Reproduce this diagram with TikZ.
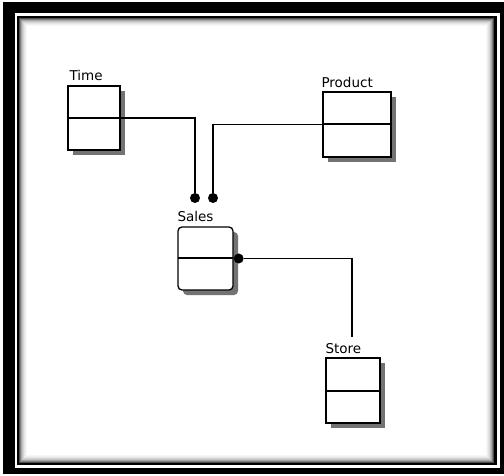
\documentclass[tikz,border=0pt]{standalone}
\usepackage{fontspec}
\setmainfont{DejaVu Sans}
\usetikzlibrary{shadows}

\tikzset{
  entity/.style={draw, line width=1.3pt, fill=white, inner sep=0pt,
    drop shadow={shadow xshift=5pt, shadow yshift=-5pt, fill=black!55, opacity=1},
    path picture={\draw[line width=2pt] (path picture bounding box.west) -- (path picture bounding box.east);}},
  lbl/.style={font=\fontsize{13.5}{15}\selectfont, inner sep=0pt, anchor=base west},
  dot/.style={circle, fill=black, inner sep=0pt, minimum size=10pt},
  link/.style={line width=1.3pt}
}

\begin{document}
\begin{tikzpicture}[x=1pt,y=-1pt]
\useasboundingbox (0,0) rectangle (504,476);
% frame
\fill[white] (0,0) rectangle (504,476);
\fill[black] (3,2) rectangle (504,474);
\fill[white] (15,13.5) rectangle (499.5,468);
\fill[black] (16.7,15.7) rectangle (497,465);
\fill[white] (19,18.3) rectangle (494,463);
\foreach \d/\c in {0/70,1/50,2/35,3/24,4/16,5/10,6/6,7/3}
  \draw[black!\c, line width=1pt] ({19.5+\d},{18.8+\d}) rectangle ({493.5-\d},{462.5-\d});

% tables
\node[entity, minimum width=52pt, minimum height=64pt] (time) at (94,118) {};
\node[entity, minimum width=68pt, minimum height=65pt] (product) at (357,124.5) {};
\node[entity, rounded corners=4pt, minimum width=55pt, minimum height=63pt] (sales) at (205.5,258.5) {};
\node[entity, minimum width=54pt, minimum height=65pt] (store) at (353,390.5) {};

\node[lbl] (timelbl) at ([xshift=2pt,yshift=5pt]time.north west) {Time};
\node[lbl] (productlbl) at ([xshift=-1pt,yshift=4pt]product.north west) {Product};
\node[lbl] (saleslbl) at ([yshift=5pt]sales.north west) {Sales};
\node[lbl] (storelbl) at ([yshift=4pt]store.north west) {Store};

% links
\node[dot] (tdot) at (195,198) {};
\node[dot] (pdot) at (213,198) {};
\node[dot] (sdot) at ([xshift=5pt]sales.east) {};
\coordinate (send) at (352,337);
\draw[link] (time.east) -| (tdot);
\draw[link] (product.west) -| (pdot);
\draw[link] (sdot) -| (send);
\end{tikzpicture}
\end{document}
